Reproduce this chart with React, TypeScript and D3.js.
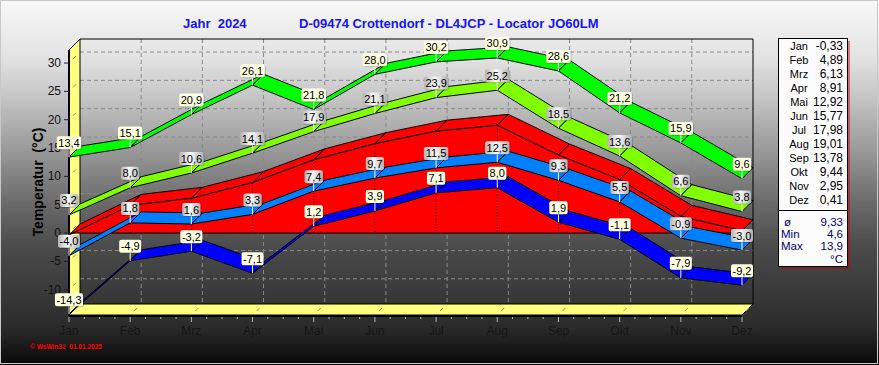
import React from "react";
import * as d3 from "d3";

// monthly values, Crottendorf 2024
const months = ["Jan", "Feb", "Mrz", "Apr", "Mai", "Jun", "Jul", "Aug", "Sep", "Okt", "Nov", "Dez"];
const absMax = [13.4, 15.1, 20.9, 26.1, 21.8, 28.0, 30.2, 30.9, 28.6, 21.2, 15.9, 9.6];
const meanMax = [3.2, 8.0, 10.6, 14.1, 17.9, 21.1, 23.9, 25.2, 18.5, 13.6, 6.6, 3.8];
const meanTemp = [-0.33, 4.89, 6.13, 8.91, 12.92, 15.77, 17.98, 19.01, 13.78, 9.44, 2.95, 0.41];
const meanMin = [-4.0, 1.8, 1.6, 3.3, 7.4, 9.7, 11.5, 12.5, 9.3, 5.5, -0.9, -3.0];
const absMin = [-14.3, -4.9, -3.2, -7.1, 1.2, 3.9, 7.1, 8.0, 1.9, -1.1, -7.9, -9.2];
const yTicks = [-10, -5, 0, 5, 10, 15, 20, 25, 30];
const summaryLabels = ["ø", "Min", "Max"];
const summaryValues = ["9,33", "4,6", "13,9"];

const W = 879;
const H = 365;
const DX = 11;
const DY = -11;

const fmt1 = (v: number) => v.toFixed(1).replace(".", ",");
const fmt2 = (v: number) => v.toFixed(2).replace(".", ",");

// rough Arial 11px widths
function textW(s: string) {
  let w = 0;
  for (const c of s) w += c === "," ? 3.06 : c === "-" ? 3.66 : 6.12;
  return w;
}

const bgStops: [number, string][] = [
  [0, "#f8f8f8"],
  [0.03, "#f4f4f4"],
  [0.16, "#e2e2e2"],
  [0.27, "#c4c4c4"],
  [0.41, "#9a9a9a"],
  [0.55, "#6c6c6c"],
  [0.68, "#4a4a4a"],
  [0.8, "#3a3a3a"],
  [0.9, "#2a2a2a"],
  [1, "#080808"],
];

export default function App() {
  const x = d3.scalePoint<string>().domain(months).range([69, 742]);
  const y = d3.scaleLinear().domain([-14.45, 32.3]).range([315, 50]);
  const xi = (i: number) => x(months[i]) as number;
  const line = d3.line();
  const poly = (pts: [number, number][]) => line(pts) + "Z";

  const segs = (vals: number[]) =>
    vals.slice(1).map((v, k) => {
      const a: [number, number] = [xi(k), y(vals[k])];
      const b: [number, number] = [xi(k + 1), y(v)];
      return poly([a, b, [b[0] + DX, b[1] + DY], [a[0] + DX, a[1] + DY]]);
    });

  const ribbons = [
    { vals: absMin, fill: "#0000ff", lab: "url(#cream)" },
    { vals: meanMin, fill: "#0080ff", lab: "url(#silver)" },
    { vals: meanMax, fill: "#80ff00", lab: "url(#silver)" },
    { vals: absMax, fill: "#00ff00", lab: "url(#cream)" },
  ];

  const x0 = xi(0), x1 = xi(11);
  const yTop = y(32.3), yBot = y(-14.45);

  const redFront = d3
    .area<number>()
    .x((_, i) => xi(i))
    .y0(y(0))
    .y1((d) => y(d))(meanTemp);

  return (
    <svg width={W} height={H} style={{ position: "absolute", left: 0, top: 0 }} fontFamily="'Liberation Sans', Arial, sans-serif">
      <defs>
        <linearGradient id="bg" x1="0" y1="0" x2="0" y2="1">
          {bgStops.map(([o, c]) => (
            <stop key={o} offset={o} stopColor={c} />
          ))}
        </linearGradient>
        <linearGradient id="silver" x1="0" y1="0" x2="1" y2="0">
          <stop offset="0" stopColor="#b4b4b4" />
          <stop offset="0.45" stopColor="#fafafa" />
          <stop offset="1" stopColor="#b0b0b0" />
        </linearGradient>
        <linearGradient id="cream" x1="0" y1="0" x2="0" y2="1">
          <stop offset="0" stopColor="#ffffe8" />
          <stop offset="1" stopColor="#ffffd8" />
        </linearGradient>
      </defs>

      <rect width={W} height={H} fill="url(#bg)" />
      <rect x={0.5} y={0.5} width={W - 2} height={H - 2} fill="none" stroke="#c8c8c8" />

      {/* titles */}
      <text x={183} y={28} fontSize={13} fontWeight="bold" fill="#1515f5" style={{ whiteSpace: "pre" }}>
        Jahr  2024
      </text>
      <text x={299} y={28} fontSize={13} fontWeight="bold" fill="#1515f5">
        D-09474 Crottendorf - DL4JCP - Locator JO60LM
      </text>

      {/* back plane grid */}
      <g stroke="#8a8a8a" strokeDasharray="4,3" strokeWidth={1}>
        {yTicks.map((t) => (
          <line key={t} x1={x0 + DX} x2={x1 + DX} y1={y(t) + DY} y2={y(t) + DY} />
        ))}
        {months.slice(1, 11).map((m) => (
          <line key={m} x1={(x(m) as number) + DX} x2={(x(m) as number) + DX} y1={yTop + DY} y2={yBot + DY} />
        ))}
      </g>
      <path
        d={poly([[x0 + DX, yTop + DY], [x1 + DX, yTop + DY], [x1 + DX, yBot + DY]]).replace("Z", "")}
        fill="none"
        stroke="#000"
      />

      {/* wall and floor */}
      <path d={poly([[x0, yTop], [x0 + DX, yTop + DY], [x0 + DX, yBot + DY], [x0, yBot]])} fill="#ffff80" stroke="#000" />
      <path d={poly([[x0, yBot], [x0 + DX, yBot + DY], [x1 + DX, yBot + DY], [x1, yBot]])} fill="#ffff80" stroke="#000" />
      <line x1={x0} x2={x0} y1={yTop} y2={yBot + 1} stroke="#000" strokeWidth={2} />
      <line x1={x0} x2={x1} y1={yBot + 1} y2={yBot + 1} stroke="#000" strokeWidth={2} />
      <g stroke="#8c8c6c">
        {yTicks.map((t) => (
          <line key={t} x1={x0 + 4} x2={x0 + 7} y1={y(t) - 4} y2={y(t) - 7} />
        ))}
        {months.slice(1).map((m) => (
          <line key={m} x1={(x(m) as number) + 4} x2={(x(m) as number) + 7} y1={yBot - 4} y2={yBot - 7} />
        ))}
      </g>

      {/* y axis */}
      <g fontSize={12} fill="#111" textAnchor="end">
        {yTicks.map((t) => (
          <g key={t}>
            <line x1={x0 - 5} x2={x0} y1={y(t)} y2={y(t)} stroke="#222" />
            <text x={61} y={y(t) + 4}>{t}</text>
          </g>
        ))}
      </g>
      <text
        transform="translate(43,182) rotate(-90)"
        textAnchor="middle"
        fontSize={14}
        fontWeight="bold"
        fill="#000"
        style={{ whiteSpace: "pre" }}
      >
        Temperatur  (°C)
      </text>

      {/* x axis */}
      <g stroke="#b8b8b8">
        {d3.range(0, 45).map((k) => {
          const xx = x0 + (k * (x1 - x0)) / 44;
          return <line key={k} x1={xx} x2={xx} y1={yBot + 2} y2={k % 4 === 0 ? yBot + 7 : yBot + 4} />;
        })}
      </g>
      <g fontSize={12} fill="#161616" textAnchor="middle">
        {months.map((m) => (
          <text key={m} x={x(m)} y={335}>{m}</text>
        ))}
      </g>

      {/* mean temperature as 3D area */}
      <g stroke="#000" strokeWidth={1}>
        {segs(meanTemp).map((d, i) => (
          <path key={i} d={d} fill="#ff0000" />
        ))}
        <path d={redFront as string} fill="#ff0000" />
      </g>
      <g stroke="#000" strokeDasharray="1,2">
        {meanTemp.map((v, i) =>
          i > 0 && i < 11 ? <line key={i} x1={xi(i)} x2={xi(i)} y1={y(v)} y2={y(0)} /> : null
        )}
      </g>

      {/* ribbons */}
      {ribbons.map((r, ri) => (
        <g key={ri} stroke="#000" strokeWidth={1}>
          {segs(r.vals).map((d, i) => (
            <path key={i} d={d} fill={r.fill} />
          ))}
        </g>
      ))}

      {/* value labels */}
      {ribbons.map((r, ri) => (
        <g key={ri} fontSize={11} textAnchor="middle">
          {r.vals.map((v, i) => {
            const s = fmt1(v);
            const w = textW(s) + 3;
            const px = xi(i);
            const py = y(v);
            return (
              <g key={i}>
                <line x1={px} x2={px} y1={py - 8} y2={py} stroke="#fff" />
                <rect x={px - w / 2 + 1} y={py - 20} width={w} height={13} rx={2} fill="#000" opacity={0.18} />
                <rect x={px - w / 2} y={py - 21} width={w} height={13} rx={2} fill={r.lab} />
                <text x={px} y={py - 10.5} fill="#000">{s}</text>
              </g>
            );
          })}
        </g>
      ))}

      {/* legend box */}
      <rect x={781} y={41} width={69} height={228} fill="#c00000" opacity={0.45} />
      <rect x={778.5} y={38.5} width={69} height={228} fill="#fcfcfc" stroke="#000" />
      <line x1={778.5} x2={847.5} y1={210.5} y2={210.5} stroke="#000" />
      <g fill="#000">
        {months.map((m, i) => (
          <g key={m}>
            <text x={799} y={49.5 + i * 14} fontSize={11} textAnchor="middle">{m}</text>
            <text x={843} y={49.5 + i * 14} fontSize={12} textAnchor="end">{fmt2(meanTemp[i])}</text>
          </g>
        ))}
      </g>
      <g fontSize={11.5} fill="#000080">
        {summaryLabels.map((s, i) => (
          <g key={s}>
            <text x={i === 0 ? 784 : 781} y={226 + i * 12} textAnchor="start">{s}</text>
            <text x={843} y={226 + i * 12} textAnchor="end">{summaryValues[i]}</text>
          </g>
        ))}
        <text x={843} y={263} textAnchor="end">°C</text>
      </g>

      <text x={30} y={349} fontSize={7.5} fontWeight="bold" fill="#ff0000" textLength={72} lengthAdjust="spacingAndGlyphs" style={{ whiteSpace: "pre" }}>
        © WsWin32  01.01.2025
      </text>
    </svg>
  );
}
